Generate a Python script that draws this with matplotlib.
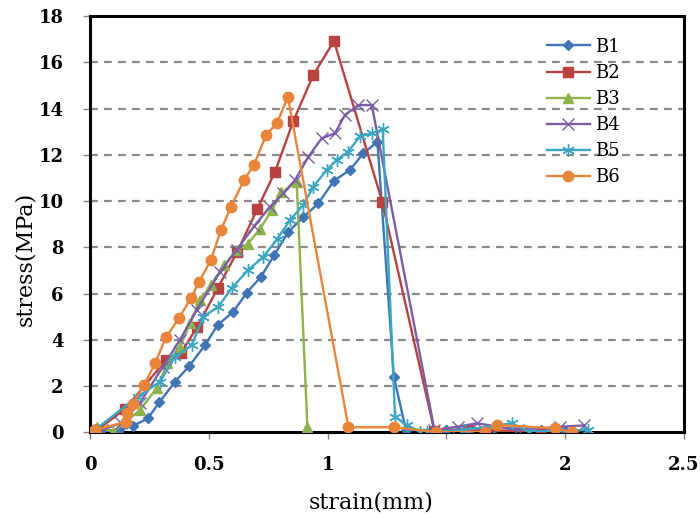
import matplotlib
matplotlib.use("Agg")
import matplotlib.pyplot as plt

# stress-strain curves, specimens B1..B6
b1_x = [0.014, 0.12, 0.18, 0.243, 0.292, 0.358, 0.418, 0.484, 0.537, 0.603, 0.66, 0.72, 0.776,
        0.835, 0.898, 0.961, 1.027, 1.094, 1.15, 1.21, 1.279, 1.33, 1.5, 1.7, 1.9, 2.0]
b1_y = [0.03, 0.1, 0.27, 0.6, 1.3, 2.19, 2.87, 3.77, 4.64, 5.21, 6.04, 6.73, 7.67,
        8.67, 9.3, 9.9, 10.88, 11.34, 12.06, 12.56, 2.4, 0.1, 0.1, 0.2, 0.1, 0.05]

b2_x = [0.03, 0.147, 0.32, 0.382, 0.452, 0.537, 0.62, 0.704, 0.779, 0.856, 0.94, 1.027,
        1.23, 1.45, 1.59, 1.9]
b2_y = [0.1, 1.0, 3.13, 3.41, 4.57, 6.22, 7.81, 9.65, 11.27, 13.46, 15.45, 16.92,
        9.97, 0.05, 0.12, 0.0]

b3_x = [0.028, 0.098, 0.21, 0.28, 0.325, 0.379, 0.421, 0.463, 0.509, 0.565, 0.617, 0.664,
        0.716, 0.765, 0.806, 0.87, 0.915]
b3_y = [0.24, 0.02, 0.96, 1.9, 2.98, 3.7, 4.71, 5.72, 6.37, 7.23, 7.88, 8.15,
        8.8, 9.6, 10.37, 10.84, 0.25]

b4_x = [0.05, 0.13, 0.21, 0.307, 0.379, 0.449, 0.547, 0.617, 0.69, 0.757, 0.814, 0.863,
        0.919, 0.975, 1.031, 1.073, 1.129, 1.186, 1.45, 1.55, 1.63, 1.8, 1.98, 2.08]
b4_y = [0.1, 0.4, 1.27, 2.84, 4.0, 5.29, 6.94, 7.88, 8.9, 9.75, 10.33, 10.91,
        11.91, 12.71, 12.93, 13.72, 14.15, 14.15, 0.1, 0.25, 0.39, 0.1, 0.24, 0.3]

b5_x = [0.02, 0.2, 0.295, 0.358, 0.428, 0.477, 0.54, 0.596, 0.666, 0.73, 0.79, 0.842,
        0.898, 0.94, 0.996, 1.038, 1.087, 1.136, 1.186, 1.232, 1.284, 1.333, 1.389,
        1.42, 1.578, 1.775, 1.85, 2.097]
b5_y = [0.1, 1.54, 2.19, 3.27, 3.77, 5.0, 5.43, 6.23, 7.02, 7.59, 8.38, 9.18,
        9.83, 10.62, 11.34, 11.77, 12.13, 12.8, 12.93, 13.1, 0.67, 0.32, 0.03,
        0.0, 0.1, 0.39, 0.03, 0.1]

b6_x = [0.02, 0.15, 0.154, 0.18, 0.227, 0.274, 0.32, 0.375, 0.425, 0.459, 0.509, 0.551,
        0.593, 0.648, 0.69, 0.741, 0.787, 0.833, 1.088, 1.28, 1.456, 1.662, 1.715,
        1.957, 2.027]
b6_y = [0.1, 0.45, 0.82, 1.24, 2.04, 2.99, 4.12, 4.94, 5.81, 6.5, 7.45, 8.74,
        9.74, 10.91, 11.56, 12.85, 13.37, 14.5, 0.22, 0.22, 0.01, 0.02, 0.32,
        0.17, 0.02]

series = [
    ("B1", b1_x, b1_y, "#3f74b5", "D", 5.5),
    ("B2", b2_x, b2_y, "#b8423f", "s", 7),
    ("B3", b3_x, b3_y, "#8db34c", "^", 7),
    ("B4", b4_x, b4_y, "#7a5ea6", "x", 8),
    ("B5", b5_x, b5_y, "#3ca6c2", (6, 2, 0), 9),
    ("B6", b6_x, b6_y, "#e8853b", "o", 7.5),
]

plt.rcParams["font.family"] = "DejaVu Serif"

fig = plt.figure(figsize=(7.0, 5.18), dpi=100)
ax = fig.add_axes([0.1286, 0.1654, 0.8484, 0.8037])

for name, xs, ys, col, mk, ms in series:
    ax.plot(xs, ys, color=col, lw=1.7, marker=mk, ms=ms, mec=col, mew=1.0,
            label=name, zorder=3)

ax.set_xlim(0, 2.5)
ax.set_ylim(0, 18)
ax.set_xticks([0, 0.5, 1, 1.5, 2, 2.5])
ax.set_xticklabels(["0", "0.5", "1", "", "2", "2.5"])
ax.set_yticks(range(0, 19, 2))

for y in range(2, 18, 2):
    ax.axhline(y, color="#8a8a8a", lw=1.6, ls=(0, (3.5, 2.8)), zorder=1)

for sp in ax.spines.values():
    sp.set_linewidth(2.2)
    sp.set_color("black")

ax.tick_params(axis="both", direction="out", length=5, width=1, color="#808080",
               labelsize=13)
for lbl in ax.get_xticklabels() + ax.get_yticklabels():
    lbl.set_fontweight("bold")
ax.tick_params(axis="x", pad=12)
ax.tick_params(axis="y", pad=14)

fig.text(0.036, 0.5, "stress(MPa)", rotation=90, ha="center", va="center", fontsize=16)
fig.text(0.53, 0.03, "strain(mm)", ha="center", va="center", fontsize=16)

ax.legend(loc="upper right", bbox_to_anchor=(0.905, 0.965), frameon=False, fontsize=13,
          handlelength=2.4, handletextpad=0.3, labelspacing=0.45, borderaxespad=0)

fig.savefig("out.png", dpi=100)
